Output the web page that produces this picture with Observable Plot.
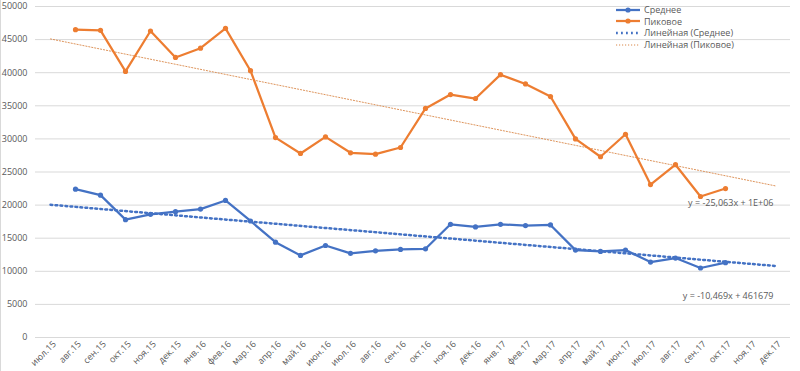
<!DOCTYPE html>
<html>
<head>
<meta charset="utf-8">
<script src="https://cdn.jsdelivr.net/npm/d3@7"></script>
<script src="https://cdn.jsdelivr.net/npm/@observablehq/plot@0.6"></script>
<style>
  html, body { margin: 0; padding: 0; background: #fff; }
  #wrap { position: relative; width: 800px; height: 371px; overflow: hidden; }
  #wrap::before { content: ""; position: absolute; left: 0; top: 0; bottom: 0; width: 1px; background: #d9d9d9; }
  #legend { position: absolute; left: 615px; top: 4px; font: 9px "Open Sans", "Liberation Sans", sans-serif; color: #595959; }
  #legend .row { display: flex; align-items: center; height: 11.6px; }
  #legend svg { margin-right: 3px; }
</style>
</head>
<body>
<div id="wrap"><div id="legend"></div></div>
<script>
const months = ["июл.15","авг.15","сен.15","окт.15","ноя.15","дек.15","янв.16","фев.16","мар.16","апр.16","май.16","июн.16","июл.16","авг.16","сен.16","окт.16","ноя.16","дек.16","янв.17","фев.17","мар.17","апр.17","май.17","июн.17","июл.17","авг.17","сен.17","окт.17","ноя.17","дек.17"];
const dataMonths = months.slice(1, 28);
const meanValues = [22400,21500,17800,18600,19000,19400,20700,17600,14400,12400,13900,12700,13100,13300,13400,17100,16700,17100,16900,17000,13200,13000,13200,11400,12000,10500,11300];
const peakValues = [46500,46400,40200,46300,42300,43700,46700,40300,30200,27800,30300,27900,27700,28700,34600,36700,36100,39700,38300,36400,30000,27300,30700,23100,26100,21300,22500];
const trendMonths = ["июл.15","дек.17"];
const meanTrend = [20050, 10800];
const peakTrend = [45100, 22900];
const seriesNames = ["Среднее","Пиковое","Линейная (Среднее)","Линейная (Пиковое)"];
const equations = [
  {m: "дек.17", v: 20300, text: "y = -25,063x + 1E+06"},
  {m: "дек.17", v: 6200, text: "y = -10,469x + 461679"}
];
const yTicks = d3.range(0, 50001, 5000);

const blue = "#4472C4", orange = "#ED7D31";
const mean = dataMonths.map((m, i) => ({m, v: meanValues[i]}));
const peak = dataMonths.map((m, i) => ({m, v: peakValues[i]}));
const mt = trendMonths.map((m, i) => ({m, v: meanTrend[i]}));
const pt = trendMonths.map((m, i) => ({m, v: peakTrend[i]}));

const chart = Plot.plot({
  width: 800, height: 371,
  marginLeft: 35, marginRight: 10, marginTop: 6, marginBottom: 34,
  style: {fontFamily: "'Open Sans', 'Liberation Sans', sans-serif", fontSize: "9px", color: "#595959", background: "#fff"},
  x: {type: "point", domain: months, padding: 0.5, label: null},
  y: {domain: [0, 50000], ticks: yTicks, label: null, tickFormat: d => String(d)},
  marks: [
    Plot.gridY(yTicks, {stroke: "#d9d9d9", strokeOpacity: 1, strokeWidth: 1}),
    Plot.axisY({ticks: yTicks, tickSize: 0, tickPadding: 8, tickFormat: d => String(d), label: null, fill: "#595959"}),
    Plot.axisX({tickSize: 0, tickRotate: -45, tickPadding: 3, label: null, fill: "#595959", textAnchor: "end", dx: 4, dy: 2}),
    Plot.line(pt, {x: "m", y: "v", stroke: "#D9884A", strokeWidth: 1, strokeDasharray: "1.2,1.8", strokeOpacity: 0.9}),
    Plot.line(mt, {x: "m", y: "v", stroke: blue, strokeWidth: 2.5, strokeDasharray: "1.8,3.2"}),
    Plot.line(peak, {x: "m", y: "v", stroke: orange, strokeWidth: 2.25, strokeLinejoin: "round"}),
    Plot.dot(peak, {x: "m", y: "v", fill: orange, r: 2.6, stroke: null}),
    Plot.line(mean, {x: "m", y: "v", stroke: blue, strokeWidth: 2.25, strokeLinejoin: "round"}),
    Plot.dot(mean, {x: "m", y: "v", fill: blue, r: 2.6, stroke: null}),
    Plot.text(equations, {x: "m", y: "v", text: "text", textAnchor: "end", dx: -2, fill: "#595959", fontSize: 9})
  ]
});
const wrap = document.getElementById("wrap");
wrap.insertBefore(chart, wrap.firstChild);

const swatches = [
  `<svg width="26" height="8"><line x1="1" y1="4" x2="25" y2="4" stroke="${blue}" stroke-width="2.25"/><circle cx="13" cy="4" r="2.6" fill="${blue}"/></svg>`,
  `<svg width="26" height="8"><line x1="1" y1="4" x2="25" y2="4" stroke="${orange}" stroke-width="2.25"/><circle cx="13" cy="4" r="2.6" fill="${orange}"/></svg>`,
  `<svg width="26" height="8"><line x1="1" y1="4" x2="25" y2="4" stroke="${blue}" stroke-width="2.5" stroke-dasharray="1.8,3.2"/></svg>`,
  `<svg width="26" height="8"><line x1="1" y1="4" x2="25" y2="4" stroke="#D9884A" stroke-width="1" stroke-dasharray="1.2,1.8"/></svg>`
];
document.getElementById("legend").innerHTML = seriesNames.map((n, i) =>
  `<div class="row">${swatches[i]}<span>${n}</span></div>`).join("");
</script>
</body>
</html>
